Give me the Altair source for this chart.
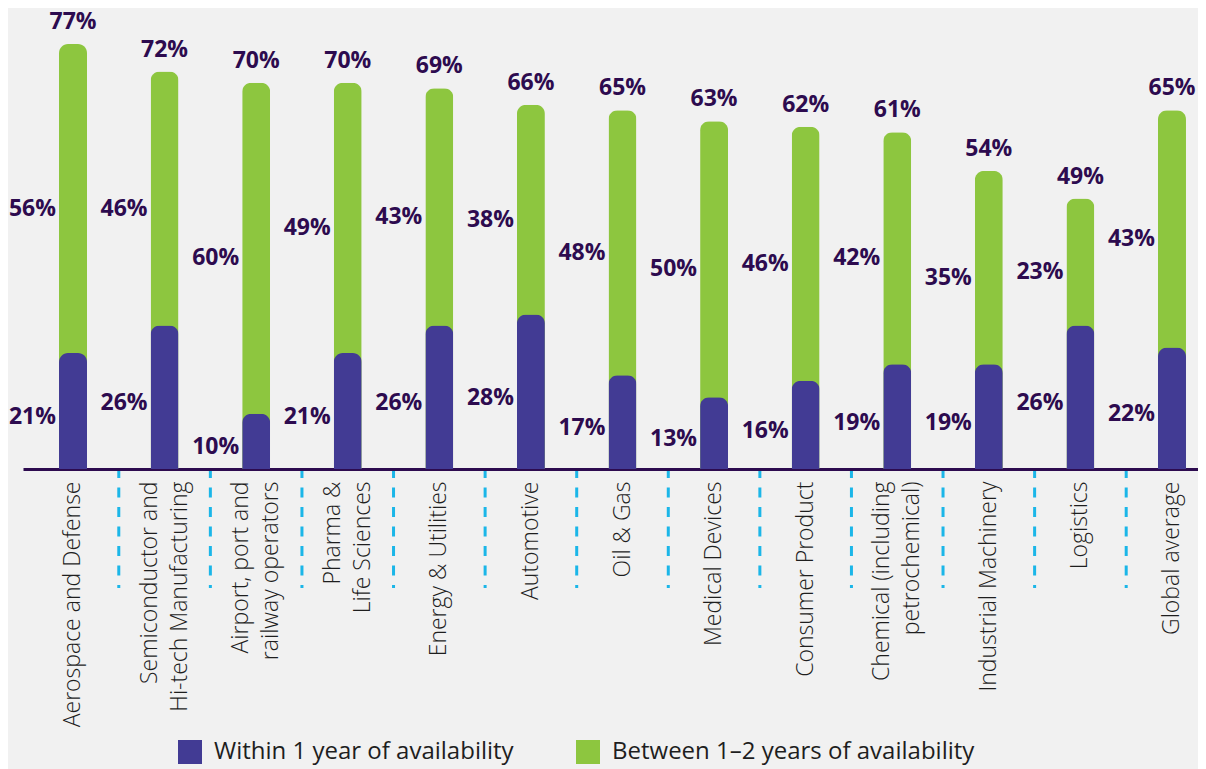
import altair as alt
import pandas as pd

categories = [
    "Aerospace and Defense",
    "Semiconductor and\nHi-tech Manufacturing",
    "Airport, port and\nrailway operators",
    "Pharma &\nLife Sciences",
    "Energy & Utilities",
    "Automotive",
    "Oil & Gas",
    "Medical Devices",
    "Consumer Product",
    "Chemical (including\npetrochemical)",
    "Industrial Machinery",
    "Logistics",
    "Global average",
]
within_1y = [21, 26, 10, 21, 26, 28, 17, 13, 16, 19, 19, 26, 22]
between_1_2y = [56, 46, 60, 49, 43, 38, 48, 50, 46, 42, 35, 23, 43]
totals = [77, 72, 70, 70, 69, 66, 65, 63, 62, 61, 54, 49, 65]
series = ["Within 1 year of availability", "Between 1\u20132 years of availability"]

PURPLE = "#423B94"
GREEN = "#8DC63F"
DARK = "#2D0B4F"
FONT = "Open Sans"
NBSP = "\u00a0"

df = pd.DataFrame({"cat": categories, "within": within_1y, "between": between_1_2y, "total": totals})
sep_df = pd.DataFrame({"cat": categories[1:]})

# two-line labels: lines centred on each other (pad the shorter line at its end)
l0 = "split(datum.label, '\\n')[0]"
l1 = "split(datum.label, '\\n')[1]"
label_expr = (
    f"indexof(datum.label, '\\n') < 0 ? datum.label : ["
    f"pad({l0}, length({l0}) + max(0, round(0.75 * (length({l1}) - length({l0})))), '{NBSP}'), "
    f"pad({l1}, length({l1}) + max(0, round(0.75 * (length({l0}) - length({l1})))), '{NBSP}')]"
)

xenc = alt.X(
    "cat:N",
    sort=categories,
    scale=alt.Scale(range=[0, 1199], paddingInner=0, paddingOuter=0.046),
    axis=alt.Axis(
        title=None, labelAngle=270, labelExpr=label_expr,
        labelFont=FONT, labelFontSize=23, labelFontWeight=300, labelColor="#1e1e1e",
        labelPadding=12, labelLineHeight=30, labelLimit=500, ticks=False,
        labelOffset={"condition": {"test": "indexof(datum.value, '\\n') >= 0", "value": -15}, "value": 0},
        domainColor=DARK, domainWidth=3, grid=False,
    ),
)
yscale = alt.Scale(domain=[0, 77], nice=False, zero=True)
cscale = alt.Scale(domain=series, range=[PURPLE, GREEN])
leg = alt.Legend(
    title=None, orient="none", legendX=155, legendY=696, direction="horizontal",
    symbolType="square", symbolSize=576, symbolStrokeWidth=0, symbolOpacity=1,
    labelFont=FONT, labelFontSize=24, labelColor="#1e1e1e", columnPadding=62,
    labelOffset=12, padding=0, labelLimit=500,
)

base = alt.Chart(df).encode(x=xenc).transform_calculate(
    tl="datum.total + '%'",
    gl="datum.between + '%'",
    pl="datum.within + '%'",
    gm="datum.within + datum.between / 2",
    pm="datum.within / 2",
    sw=f"'{series[0]}'",
    sb=f"'{series[1]}'",
)

seps = alt.Chart(sep_df).mark_rule(
    xOffset=-45.8, strokeDash=[10, 9.5], strokeDashOffset=3, strokeWidth=3, color="#1BB6E8"
).encode(x=alt.X("cat:N", sort=categories), y=alt.value(427), y2=alt.value(544))

green = base.mark_bar(width=28, cornerRadiusTopLeft=9, cornerRadiusTopRight=9).encode(
    y=alt.Y("total:Q", scale=yscale, axis=None),
    color=alt.Color("sb:N", scale=cscale, legend=leg),
)
purple = base.mark_bar(width=28, cornerRadiusTopLeft=9, cornerRadiusTopRight=9).encode(
    y=alt.Y("within:Q", scale=yscale, axis=None),
    color=alt.Color("sw:N", scale=cscale, legend=leg),
)
txt = dict(font=FONT, fontWeight="bold", fontSize=23, color=DARK)
total_text = base.mark_text(baseline="alphabetic", dy=-15, **txt).encode(
    y=alt.Y("total:Q", scale=yscale, axis=None), text="tl:N")
green_text = base.mark_text(align="right", baseline="middle", dx=-17, dy=10, **txt).encode(
    y=alt.Y("gm:Q", scale=yscale, axis=None), text="gl:N")
purple_text = base.mark_text(align="right", baseline="middle", dx=-17, dy=6, **txt).encode(
    y=alt.Y("pm:Q", scale=yscale, axis=None), text="pl:N")

chart = alt.layer(seps, green, purple, total_text, green_text, purple_text).properties(
    width=1175, height=425,
    padding={"left": 15, "top": 36, "right": 0, "bottom": 300},
    autosize=alt.AutoSizeParams(type="none"),
    background="#F1F1F1",
).configure_view(stroke=None)

chart.save("out.html", embed_options={"renderer": "svg", "actions": False})
